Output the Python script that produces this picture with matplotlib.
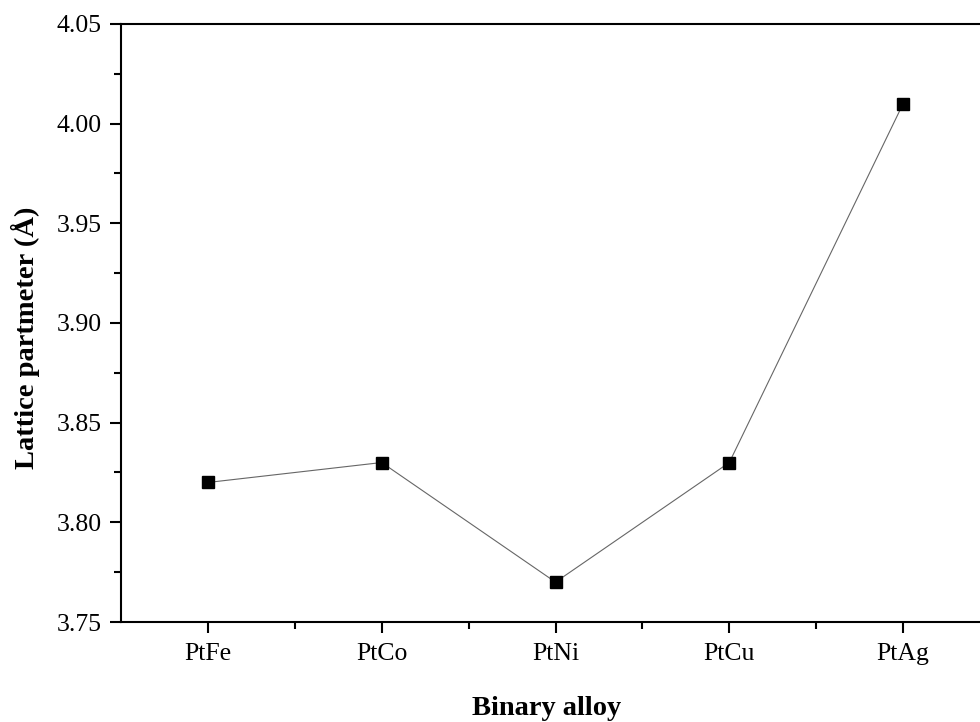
import matplotlib.pyplot as plt
from matplotlib.ticker import MultipleLocator, FixedLocator

alloys = ["PtFe", "PtCo", "PtNi", "PtCu", "PtAg"]
lattice = [3.82, 3.83, 3.77, 3.83, 4.01]

plt.rcParams['font.family'] = ['Liberation Serif', 'DejaVu Serif']

fig = plt.figure(figsize=(9.8, 7.22), dpi=100)
ax = fig.add_axes([0.1235, 0.1385, 0.8867, 0.8283])

x = list(range(1, len(alloys) + 1))
ax.plot(x, lattice, color='#666666', linewidth=0.8, marker='s',
        markersize=8.5, markerfacecolor='black', markeredgecolor='black')

ax.set_xlim(0.5, 5.5)
ax.set_ylim(3.75, 4.05)
ax.set_xticks(x)
ax.set_xticklabels(alloys)
ax.xaxis.set_minor_locator(FixedLocator([1.5, 2.5, 3.5, 4.5]))
ax.yaxis.set_major_locator(MultipleLocator(0.05))
ax.yaxis.set_minor_locator(MultipleLocator(0.025))
ax.yaxis.set_major_formatter(plt.FormatStrFormatter('%.2f'))

for side in ['left', 'bottom', 'top']:
    ax.spines[side].set_linewidth(1.5)
ax.spines['right'].set_visible(False)

ax.tick_params(axis='both', which='major', direction='out', length=8, width=1.5,
               labelsize=18.5)
ax.tick_params(axis='y', which='major', pad=6)
ax.tick_params(axis='x', which='major', pad=7)
ax.tick_params(axis='both', which='minor', direction='out', length=5, width=1.5)
ax.tick_params(top=False, right=False)

ax.set_xlabel("Binary alloy", fontsize=20.5, fontweight='bold')
ax.xaxis.set_label_coords(0.49, -0.123)
ax.set_ylabel("Lattice partmeter (Å)", fontsize=20.5, fontweight='bold')
ax.yaxis.set_label_coords(-0.093, 0.475)

fig.savefig("out.png", dpi=100)
